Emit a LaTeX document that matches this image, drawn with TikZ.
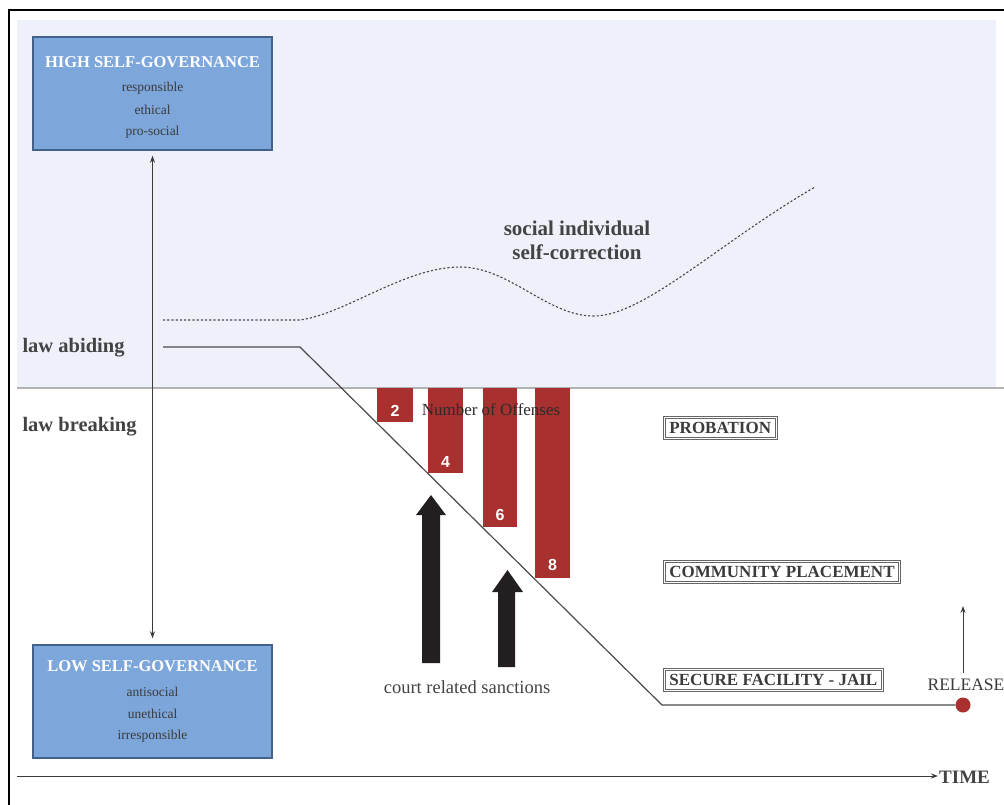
\documentclass[tikz,border=0pt]{standalone}
\usepackage{fontspec}
\setmainfont{Liberation Serif}
\newfontfamily\numfont{Liberation Sans}
\usetikzlibrary{arrows.meta}
\definecolor{skyband}{HTML}{EEF1FA}
\definecolor{govfill}{HTML}{7DA6DA}
\definecolor{govedge}{HTML}{44618C}
\definecolor{barred}{HTML}{A8302F}
\definecolor{inkgray}{HTML}{4A4A4A}
\definecolor{arrowink}{HTML}{231F20}
\newcommand{\fsz}[1]{\fontsize{#1}{#1}\selectfont}
\tikzset{
  govbox/.style={draw=govedge, line width=1.4pt, fill=govfill, minimum width=239pt, minimum height=113pt, inner sep=0pt},
  govtitle/.style={text=white, font=\fsz{16.5}\bfseries},
  govword/.style={text=inkgray!80!black, font=\fsz{13.5}},
  sidelabel/.style={font=\fsz{20.5}\bfseries, text=inkgray!90!black, anchor=west},
  stagebox/.style={draw=gray!80!black, line width=0.7pt, font=\fsz{17}\bfseries, text=inkgray!80!black, anchor=west, inner xsep=4pt, inner ysep=3pt, minimum height=19pt},
  stageframe/.style={draw=gray!80!black, line width=0.7pt},
  barnum/.style={text=white, font=\numfont\fsz{16}\bfseries},
  offbar/.style={fill=barred},
  thinarrow/.style={draw=inkgray!80!black, line width=1pt, -{Stealth[length=7pt,width=5pt]}},
}
\begin{document}
\begin{tikzpicture}[x=1pt,y=-1pt]
\useasboundingbox (0,0) rectangle (1004,804);
\fill[white] (0,0) rectangle (1004,804);
% upper band: law abiding region
\fill[skyband] (17,20) rectangle (996,388);
\draw[gray!60, line width=1.2pt] (17,388) -- (1004,388);
% frame
\draw[black, line width=2pt] (9,812) -- (9,10) -- (1010,10);

% governance boxes
\node[govbox] (high) at (152.5,93.5) {};
\node[govtitle] (hightitle) at (152.5,62) {HIGH SELF-GOVERNANCE};
\node[govword] (hw1) at (152.5,88) {responsible};
\node[govword] (hw2) at (152.5,110) {ethical};
\node[govword] (hw3) at (152.5,132) {pro-social};

\node[govbox] (low) at (152.5,701.5) {};
\node[govtitle] (lowtitle) at (152.5,666) {LOW SELF-GOVERNANCE};
\node[govword] (lw1) at (152.5,692) {antisocial};
\node[govword] (lw2) at (152.5,714) {unethical};
\node[govword] (lw3) at (152.5,736) {irresponsible};

\draw[thinarrow, {Stealth[length=7pt,width=5pt]}-{Stealth[length=7pt,width=5pt]}, shorten <=5pt, shorten >=6pt] (high.south) -- (low.north);

% side labels
\node[sidelabel] (abiding) at (19,348) {law abiding};
\node[sidelabel] (breaking) at (19,427) {law breaking};

% self-correction path
\draw[inkgray, line width=1.1pt, dash pattern=on 2.2pt off 2pt]
  (163,320) -- (300,320)
  .. controls (345,314) and (405,267) .. (460,267)
  .. controls (510,267) and (548,317) .. (595,316)
  .. controls (645,315) and (720,242) .. (815,187);
\node[font=\fsz{21}\bfseries, text=inkgray!90!black, align=center] (selfcorr) at (577,240) {social individual\\[3pt]self-correction};

% offence trajectory
\coordinate (start) at (163,347);
\coordinate (turn) at (300,347);
\coordinate (bottom) at (662,705);
\node[circle, fill=barred, inner sep=0pt, minimum size=15pt] (reldot) at (963,705) {};
\draw[inkgray, line width=1.2pt] (start) -- (turn) -- (bottom) -- (reldot.west);

% offence bars
\fill[offbar] (377,388) rectangle (413,422);
\fill[offbar] (428,388) rectangle (463,473);
\fill[offbar] (483,388) rectangle (517,527);
\fill[offbar] (535,388) rectangle (570,578);
\node[barnum] (n2) at (395,411) {2};
\node[barnum] (n4) at (445.5,462) {4};
\node[barnum] (n6) at (500,515) {6};
\node[barnum] (n8) at (552.5,565) {8};
\node[font=\fsz{17}, text=inkgray!60!black] (offenses) at (491,410) {Number of Offenses};

% court related sanctions
\fill[arrowink] (422,663) -- (422,515) -- (416,515) -- (431,495) -- (446,515) -- (440,515) -- (440,663) -- cycle;
\fill[arrowink] (498,667) -- (498,592) -- (492,592) -- (507.5,570) -- (523,592) -- (515,592) -- (515,667) -- cycle;
\node[font=\fsz{18.5}, text=inkgray!90!black] (court) at (467,687) {court related sanctions};

% stages
\node[stagebox] (prob) at (665,428) {PROBATION};
\node[stagebox] (comm) at (665,572) {COMMUNITY PLACEMENT};
\node[stagebox] (jail) at (665,680) {SECURE FACILITY - JAIL};
\foreach \s in {prob,comm,jail}
  \draw[stageframe] ([xshift=-1.8pt,yshift=1.8pt]\s.north west) rectangle ([xshift=1.8pt,yshift=-1.8pt]\s.south east);

% release
\node[font=\fsz{17.5}, text=inkgray!80!black] (release) at (966,685) {RELEASE};
\coordinate (relfoot) at (963,673);
\coordinate (reltip) at (963,606);
\draw[thinarrow] (relfoot) -- (reltip);

% time axis
\node[font=\fsz{19}\bfseries, text=inkgray!90!black, anchor=west, inner xsep=1pt] (time) at (938,777) {TIME};
\coordinate (axis0) at (17,776);
\draw[thinarrow] (axis0) -- (time.west |- axis0);
\end{tikzpicture}
\end{document}
